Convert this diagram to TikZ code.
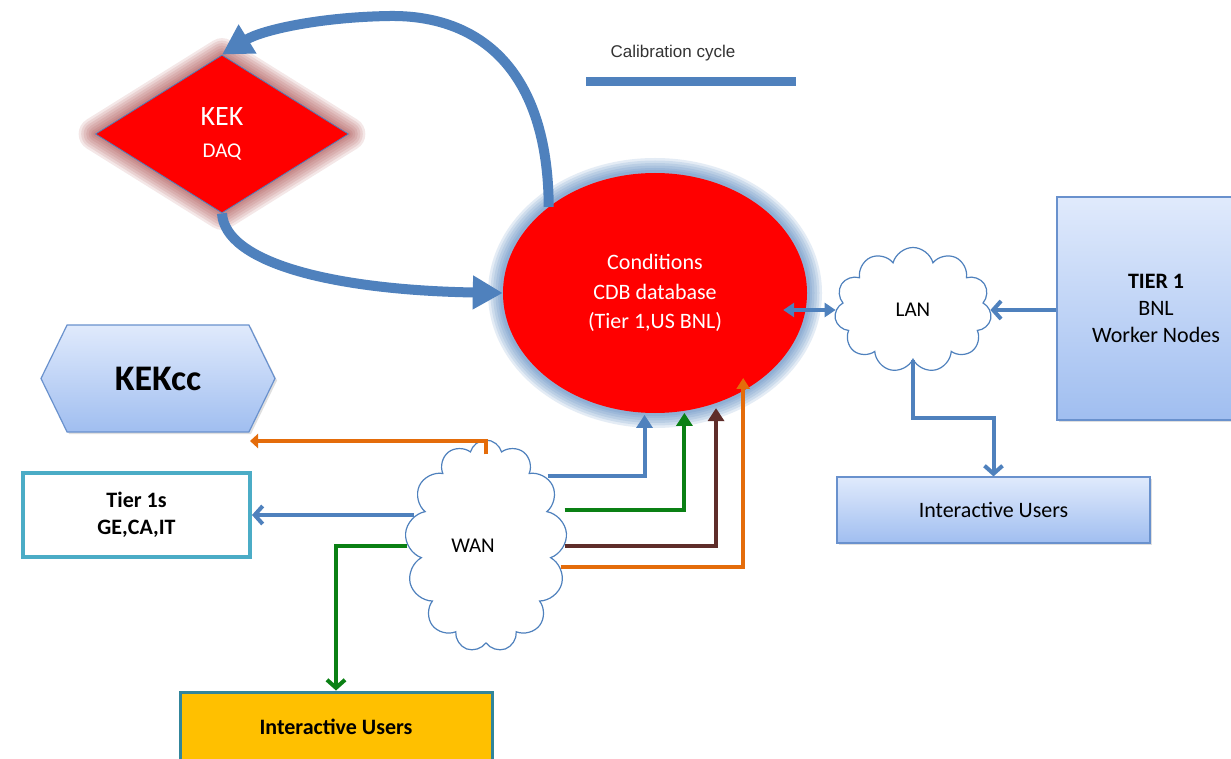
\documentclass[tikz,border=0pt]{standalone}
\usepackage{fontspec}
\setmainfont{Carlito}
\newfontfamily\arialfont{Liberation Sans}
\usetikzlibrary{shapes.geometric,shapes.symbols,arrows.meta,calc,shadows}
\definecolor{cblue}{RGB}{79,129,189}
\definecolor{cred}{RGB}{255,0,0}
\definecolor{cgreen}{RGB}{10,128,20}
\definecolor{cbrown}{RGB}{95,45,42}
\definecolor{corange}{RGB}{228,108,10}
\definecolor{cteal}{RGB}{75,172,198}
\definecolor{cyellow}{RGB}{255,192,0}
\definecolor{cdteal}{RGB}{49,133,155}
\definecolor{boxtop}{RGB}{224,234,252}
\definecolor{boxbot}{RGB}{160,190,240}
\definecolor{boxline}{RGB}{105,145,205}
\definecolor{glowred}{RGB}{165,60,60}
\definecolor{cloudc}{RGB}{79,129,189}
\newcommand\fsz[2]{\fontsize{#1}{#2}\selectfont}
\begin{document}
\begin{tikzpicture}[x=1pt,y=-1pt,
  bigarrow/.style={draw=cblue, line width=10pt, -{Triangle[length=30pt,width=32pt]}},
  barb/.style={line width=4pt, -{Straight Barb[length=8pt,width=18pt]}},
  tri/.style={line width=4pt, -{Triangle[length=13pt,width=16pt]}},
  bluebox/.style={rectangle, draw=boxline, line width=1.2pt, top color=boxtop, bottom color=boxbot,
     drop shadow={shadow xshift=2pt, shadow yshift=-2pt, opacity=0.25}, inner sep=0pt, align=center},
  cloudnode/.style={cloud, cloud ignores aspect, draw=cloudc, line width=1.2pt, fill=white, inner sep=0pt},
  glowr/.style={preaction={draw=glowred, line join=round, line width=#1, draw opacity=0.12}},
  glowb/.style={preaction={draw=cblue, line join=round, line width=#1, draw opacity=0.15}},
  kekd/.style={diamond, fill=cred, draw=cblue, line width=0.8pt, inner sep=0pt, align=center, text=white,
     minimum width=253pt, minimum height=158pt,
     glowr=34pt, glowr=29pt, glowr=24pt, glowr=19pt, glowr=14pt, glowr=9pt, glowr=5pt},
  cdbst/.style={ellipse, fill=cred, inner sep=0pt, align=center, text=white,
     minimum width=304pt, minimum height=240pt,
     glowb=30pt, glowb=25pt, glowb=20pt, glowb=15pt, glowb=10pt, glowb=6pt},
]
\useasboundingbox (0,0) rectangle (1231,759);
\fill[white] (0,0) rectangle (1231,759);

% legend
\node[text=black!80, font=\arialfont\fsz{17}{20}] (cal) at (673,53) {Calibration cycle};
\coordinate (calA) at (586,82);
\coordinate (calB) at (796,82);
\draw[cblue, line width=9pt] (calA) -- (calB);

% main nodes
\node[kekd, font=\fsz{21}{32}] (kek) at (222,134) {{\fsz{28}{32}KEK}\\DAQ};
\node[cdbst, font=\fsz{22}{29.5}] (cdb) at (655,293) {Conditions\\CDB database\\(Tier 1,US BNL)};

\node[cloudnode, cloud puffs=11, minimum width=157pt, minimum height=125pt, font=\fsz{21}{24}] (lan) at (913,310) {LAN};
\node[cloudnode, cloud puffs=13, minimum width=162pt, minimum height=212pt, font=\fsz{21}{24}] (wan) at (486,546) {\hspace*{-26pt}WAN};

\node[bluebox, minimum width=198pt, minimum height=223pt, font=\fsz{22}{27}] (t1) at (1156,308.5)
  {\textbf{TIER 1}\\BNL\\Worker Nodes};
\node[bluebox, minimum width=313pt, minimum height=66pt, font=\fsz{22}{26}] (iu2) at (993.5,510) {Interactive Users};

\node[signal, signal to=west and east, signal pointer angle=128, draw=boxline, line width=1.2pt,
  top color=boxtop, bottom color=boxbot, minimum width=234pt, minimum height=107pt, inner sep=0pt,
  drop shadow={shadow xshift=2pt, shadow yshift=-2pt, opacity=0.25},
  font=\bfseries\fsz{36}{40}] (kcc) at (158,378.5) {KEKcc};

\node[rectangle, draw=cteal, line width=4pt, fill=white, minimum width=227pt, minimum height=84pt,
  inner sep=0pt, align=center, font=\bfseries\fsz{22}{27}] (t1s) at (136.5,515) {Tier 1s\\GE,CA,IT};

\node[rectangle, draw=cdteal, line width=3pt, fill=cyellow, minimum width=312pt, minimum height=70pt,
  inner sep=0pt, font=\bfseries\fsz{22}{26}] (iu1) at (336,727) {Interactive Users};

% calibration cycle arrows
\draw[bigarrow] (cdb.141) .. controls (548,70) and (480,15) .. (390,16)
   .. controls (320,17) and (262,30) .. (kek.north);
\draw[bigarrow] (kek.south) .. controls (225,262) and (330,290) .. (cdb.west);

% LAN links
\draw[cblue, line width=4pt, {Triangle[length=11pt,width=14pt]}-{Triangle[length=11pt,width=14pt]}]
  ([xshift=-24pt]cdb.east |- lan.west) -- (lan.west);
\draw[cblue, barb] (t1.west |- lan.east) -- (lan.east);
\draw[cblue, barb] (lan.south) |- ($(lan.south)!0.5!(iu2.north)$) -| (iu2.north);

% WAN links
\coordinate (kccin) at (250,441);
\draw[corange, line width=3.5pt, -{Triangle[length=8pt,width=14pt]}] ([yshift=-15pt]wan.north) |- (kccin);
\draw[cblue, barb] ([xshift=7pt]t1s.east -| wan.west) -- (t1s.east);
\draw[cgreen, barb] (wan.west) -| (iu1.north);

\draw[cblue, tri] ([shift={(-17,-70)}]wan.east) -| ([yshift=-2pt]cdb.-95);
\draw[cgreen, tri] ([shift={(0,-36)}]wan.east) -| ([yshift=-2pt]cdb.-76);
\draw[cbrown, tri] ([shift={(0,0)}]wan.east) -| ([yshift=-5pt]cdb.-61);
\draw[corange, line width=3.5pt, -{Triangle[length=11pt,width=13pt]}] ([shift={(-4,21)}]wan.east) -| ([yshift=13pt]cdb.-48.5);
\end{tikzpicture}
\end{document}
